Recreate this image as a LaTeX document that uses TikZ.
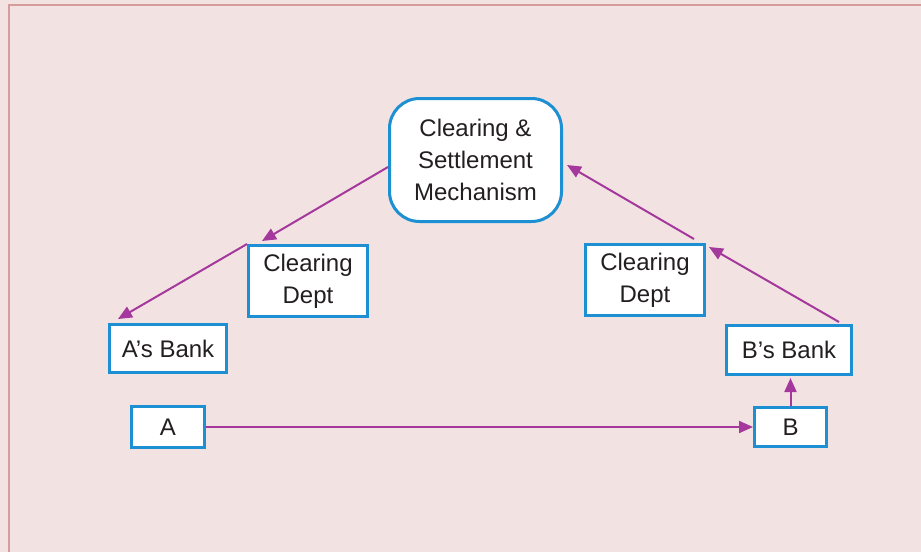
\documentclass[tikz,border=0pt]{standalone}
\usepackage{fontspec}
\setmainfont{Liberation Sans}
\usetikzlibrary{arrows.meta,calc}
\definecolor{bgpink}{RGB}{242,226,226}
\definecolor{frameline}{RGB}{214,156,156}
\definecolor{boxblue}{RGB}{28,144,210}
\definecolor{arrowmag}{RGB}{164,56,156}
\definecolor{txt}{RGB}{35,31,32}
\tikzset{
  box/.style={draw=boxblue, line width=3pt, fill=white, inner sep=0pt, align=center,
    text=txt, font=\fontsize{24}{32}\selectfont},
  flow/.style={draw=arrowmag, line width=2pt, -{Triangle[length=14pt,width=12pt]}}
}
\begin{document}
\begin{tikzpicture}[x=1pt,y=-1pt]
\fill[bgpink] (0,0) rectangle (921,552);
\useasboundingbox (0,0) rectangle (921,552);
\draw[frameline, line width=2pt] (8.5,552) -- (8.5,5) -- (921,5);

\node[box, rounded corners=30pt, minimum width=172pt, minimum height=123pt] (csm) at (475.5,160) {Clearing \&\\Settlement\\Mechanism};
\node[box, minimum width=119pt, minimum height=71pt] (cdl) at (308,281) {Clearing\\Dept};
\node[box, minimum width=117pt, minimum height=48pt] (ab) at (168,348.5) {A’s Bank};
\node[box, minimum width=73pt, minimum height=41pt] (a) at (168,427) {A};
\node[box, minimum width=119pt, minimum height=71pt] (cdr) at (645,280) {Clearing\\Dept};
\node[box, minimum width=125pt, minimum height=49pt] (bb) at (789,350) {B’s Bank};
\node[box, minimum width=72pt, minimum height=39pt] (b) at (790.5,427) {B};

\coordinate (s1) at ($(csm.west)+(0,7)$);
\coordinate (t1) at ($(cdl.north west)+(15,-3)$);
\coordinate (t2) at ($(ab.north west)+(10,-4)$);
\coordinate (s5) at ($(bb.north east)+(-14,-2)$);
\coordinate (t5) at ($(cdr.north east)+(3,4)$);
\coordinate (s6) at ($(cdr.north east)+(-12,-4)$);
\coordinate (t6) at ($(csm.east)+(4,5)$);

\draw[flow] (s1) -- (t1);
\draw[flow] (cdl.north west) -- (t2);
\draw[flow] (a.east) -- (b.west);
\draw[flow] (b.north) -- ($(b.north |- bb.south)+(0,2)$);
\draw[flow] (s5) -- (t5);
\draw[flow] (s6) -- (t6);
\end{tikzpicture}
\end{document}
